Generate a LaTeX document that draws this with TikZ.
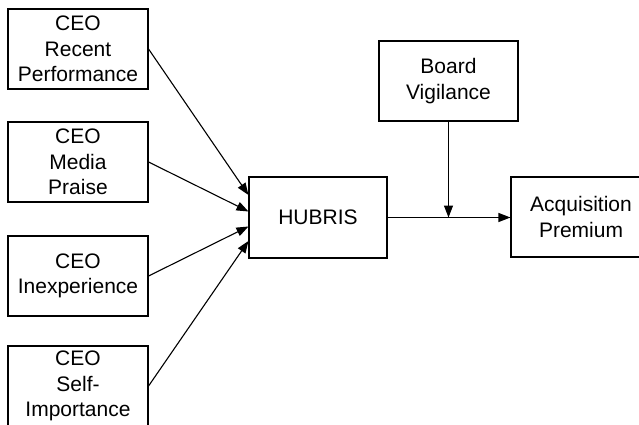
\documentclass[tikz,border=0pt]{standalone}
\usepackage{fontspec}
\setmainfont{Liberation Sans}
\usetikzlibrary{arrows.meta,calc}
\tikzset{
  box/.style={draw, line width=1.1pt, minimum width=140pt, minimum height=80pt, align=center, inner sep=0pt,
    font=\fontsize{21}{25.5}\selectfont},
  arr/.style={line width=1.1pt, -{Triangle[length=12pt,width=9pt]}},
  ln/.style={line width=1.1pt}
}
\begin{document}
\begin{tikzpicture}[x=1pt,y=-1pt]
\useasboundingbox (0,0) rectangle (639,425);
\clip (0,0) rectangle (639,425);
\node[box] (c1) at (78,49) {CEO\\Recent\\Performance};
\node[box] (c2) at (78,162) {CEO\\Media\\Praise};
\node[box] (c3) at (78,276) {CEO\\Inexperience};
\node[box] (c4) at (78,386) {CEO\\Self-\\Importance};
\node[box, minimum width=138pt, minimum height=81pt] (hub) at (318,217.5) {HUBRIS};
\node[box, minimum width=139pt] (board) at (448.5,81) {Board\\Vigilance};
\node[box] (acq) at (581,217) {Acquisition\\Premium};
\coordinate (h1) at ($(hub.west)+(0,-22.5)$);
\coordinate (h2) at ($(hub.west)+(0,-6)$);
\coordinate (h3) at ($(hub.west)+(0,9)$);
\coordinate (h4) at ($(hub.west)+(0,23.5)$);
\draw[arr] (c1.east) -- (h1);
\draw[arr] (c2.east) -- (h2);
\draw[arr] (c3.east) -- (h3);
\draw[arr] (c4.east) -- (h4);
\draw[arr] (hub.east) -- (acq.west |- hub.east);
\coordinate (j) at (board.south |- hub.east);
\draw[arr] (board.south) -- (j);
\end{tikzpicture}
\end{document}
